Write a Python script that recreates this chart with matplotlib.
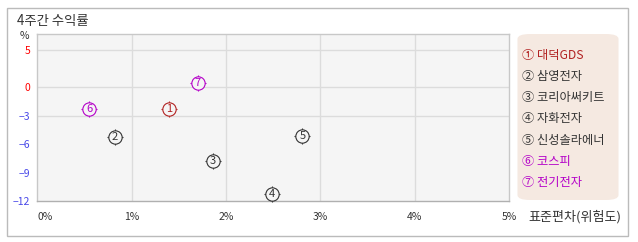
import numpy as np
import matplotlib
matplotlib.use('Agg')
import matplotlib.pyplot as plt
from matplotlib.patches import Rectangle, FancyBboxPatch

plt.rcParams['font.family'] = ['Noto Sans CJK KR', 'DejaVu Sans']

# data
names = ['대덕GDS', '삼영전자', '코리아써키트', '자화전자', '신성솔라에너', '코스피', '전기전자']
marks = ['①', '②', '③', '④', '⑤', '⑥', '⑦']
risk = [1.40, 0.82, 1.86, 2.49, 2.81, 0.55, 1.70]      # std dev, %
ret = [-2.3, -5.2, -7.8, -11.2, -5.1, -2.3, 0.6]       # 4-week return, %
x_ticks = [0, 1, 2, 3, 4, 5]
y_ticks = [5, 0, -3, -6, -9, -12]

RED = '#b22222'
GRAY = '#333333'
PURPLE = '#b400c8'
colors = [RED, GRAY, GRAY, GRAY, GRAY, PURPLE, PURPLE]


# the y axis in the reference is stretched differently above and below zero
def fwd(v):
    v = np.asarray(v, dtype=float)
    return np.where(v < 0, v * 9.5, v * 7.4)


def inv(v):
    v = np.asarray(v, dtype=float)
    return np.where(v < 0, v / 9.5, v / 7.4)


fig = plt.figure(figsize=(6.38, 2.42), dpi=100)
W, H = 638, 242

# outer frame
fig.patches.append(Rectangle((6.5 / W, 1 - 235.5 / H), 621 / W, 228 / H,
                             transform=fig.transFigure, fill=False,
                             edgecolor='#bbbbbb', linewidth=1))

fig.text(17 / W, 1 - 20.5 / H, '4주간 수익률', fontsize=9.6, color='#333333',
         va='center', ha='left')
fig.text(24 / W, 1 - 36 / H, '%', fontsize=7.5, color='#333333',
         va='center', ha='center')
fig.text(528 / W, 1 - 216.5 / H, '표준편차(위험도)', fontsize=9.4,
         color='#333333', va='center', ha='left')

ax = fig.add_axes([37.3 / W, 1 - 201.3 / H, (509 - 37.3) / W, (201.3 - 34) / H])
ax.set_yscale('function', functions=(fwd, inv))
ax.set_xlim(0, 5)
ax.set_ylim(-12, 7.2)
ax.set_facecolor('#f5f5f5')

for s in ax.spines.values():
    s.set_color('#c8c8c8')
    s.set_linewidth(1)
ax.spines['bottom'].set_color('#b0b0b0')

for xv in x_ticks[1:-1]:
    ax.axvline(xv, color='#dcdcdc', linewidth=1, zorder=0)
for yv in [5, 0, -3]:
    ax.axhline(yv, color='#dcdcdc', linewidth=1, zorder=0)

ax.set_xticks(x_ticks)
ax.set_xticklabels([f'{v}%' for v in x_ticks])
ax.set_yticks(y_ticks)
ax.set_yticklabels([str(v) if v >= 0 else '\u2212' + str(-v) for v in y_ticks])
ax.tick_params(axis='both', length=0, labelsize=7.5)
ax.tick_params(axis='x', pad=8, labelcolor='#333333')
ax.tick_params(axis='y', pad=5)
for lab, v in zip(ax.get_yticklabels(), y_ticks):
    lab.set_color('#ff0000' if v >= 0 else '#4848e8')
ax.get_xticklabels()[0].set_horizontalalignment('left')

# circled markers with small crosshair ticks
for i in range(len(names)):
    ax.plot(risk[i], ret[i], marker='+', markersize=12, markeredgewidth=0.8,
            color=colors[i], zorder=3, clip_on=False)
    ax.plot(risk[i], ret[i], marker='o', markersize=9.6, markeredgewidth=0.8,
            markerfacecolor='#f5f5f5', markeredgecolor=colors[i], zorder=4,
            clip_on=False)
    ax.text(risk[i], ret[i], str(i + 1), fontsize=8, color=colors[i],
            ha='center', va='center', zorder=5)

# legend panel
fig.patches.append(FancyBboxPatch((517.5 / W, 1 - 200 / H), 101 / W, 166 / H,
                                  boxstyle='round,pad=0,rounding_size=0.02',
                                  transform=fig.transFigure,
                                  facecolor='#f5e9e1', edgecolor='none'))
for i in range(len(names)):
    fig.text(521.5 / W, 1 - (55 + 21.3 * i) / H, marks[i] + ' ' + names[i],
             fontsize=8.8, color=colors[i], va='center', ha='left')

fig.savefig('out.png', dpi=100)
